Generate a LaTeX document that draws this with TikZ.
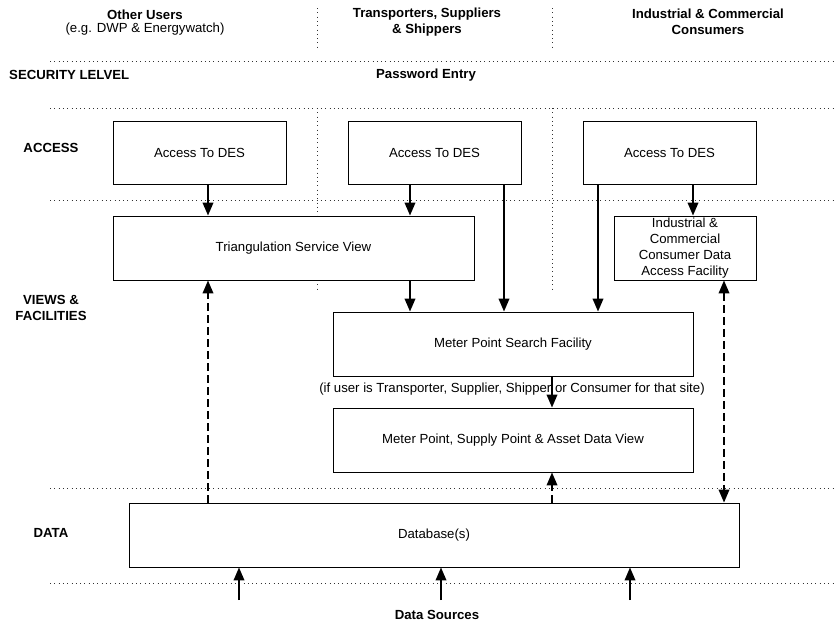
\documentclass[tikz,border=0pt]{standalone}
\usepackage{fontspec}
\setmainfont{Liberation Sans}
\usetikzlibrary{arrows.meta}
\begin{document}
\begin{tikzpicture}[x=1pt,y=-1pt,
  every node/.style={font=\fontsize{13.2}{15.5}\selectfont, inner sep=0pt},
  hdr/.style={font=\fontsize{13.2}{15.5}\selectfont\bfseries, align=center},
  box/.style={draw, line width=0.8pt, fill=white, align=center},
  sep/.style={line width=0.9pt, dash pattern=on 0.9pt off 3.4pt, black!80},
  arr/.style={-{Triangle[width=10.5pt,length=13pt]}, line width=2pt},
  darr/.style={-{Triangle[width=10.5pt,length=13pt]}, line width=2pt, dash pattern=on 8pt off 4pt},
  dboth/.style={{Triangle[width=10.5pt,length=13pt]}-{Triangle[width=10.5pt,length=13pt]}, line width=2pt, dash pattern=on 8pt off 4pt}]
\useasboundingbox (0,0) rectangle (835,625);

% layer separators
\foreach \yy in {61.7,108,200.7,488.3,583.3}
  \draw[sep] (50,\yy) -- (835,\yy);
\foreach \xx in {317,552} {
  \draw[sep] (\xx,8) -- (\xx,50);
  \draw[sep] (\xx,108) -- (\xx,290);
}

% column headings
\node[hdr] (colA) at (145,14.5) {Other Users};
\node (colAsub) at (145,29.5) {(e.g. DWP \& Energywatch)};
\node[hdr] (colB) at (427,22) {Transporters, Suppliers\\\& Shippers};
\node[hdr] (colC) at (708,22) {Industrial \& Commercial\\Consumers};

% layer labels
\node[hdr, anchor=west] (lsec) at (9,75) {SECURITY LELVEL};
\node[hdr] (pwd) at (426,75) {Password Entry};
\node[hdr] (lacc) at (51,148) {ACCESS};
\node[hdr] (lview) at (51,308) {VIEWS \&\\FACILITIES};
\node[hdr] (ldata) at (51,533) {DATA};
\node[hdr] (dsrc) at (437,615) {Data Sources};

% boxes
\node[box, minimum width=173pt, minimum height=63pt] (acc1) at (199.5,152.5) {Access To DES};
\node[box, minimum width=173pt, minimum height=63pt] (acc2) at (434.5,152.5) {Access To DES};
\node[box, minimum width=173pt, minimum height=63pt] (acc3) at (669.5,152.5) {Access To DES};
\node[box, minimum width=361pt, minimum height=64pt] (tri) at (293.5,248) {Triangulation Service View};
\node[box, minimum width=142pt, minimum height=64pt, font=\fontsize{13.2}{16.2}\selectfont] (ind) at (685,248)
  {Industrial \&\\Commercial\\Consumer Data\\Access Facility};
\node[box, minimum width=360pt, minimum height=64pt] (mps) at (513,344) {Meter Point Search Facility};
\node (cond) at (512,389) {(if user is Transporter, Supplier, Shipper or Consumer for that site)};
\node[box, minimum width=360pt, minimum height=64pt] (mpv) at (513,440) {Meter Point, Supply Point \& Asset Data View};
\node[box, minimum width=610pt, minimum height=64pt] (db) at (434,535) {Database(s)};

% access flows
\draw[arr] (208,0 |- acc1.south) -- (208,0 |- tri.north);
\draw[arr] (410,0 |- acc2.south) -- (410,0 |- tri.north);
\draw[arr] (504,0 |- acc2.south) -- (504,0 |- mps.north);
\draw[arr] (598,0 |- acc3.south) -- (598,0 |- mps.north);
\draw[arr] (693,0 |- acc3.south) -- (693,0 |- ind.north);
\draw[arr] (410,0 |- tri.south) -- (410,0 |- mps.north);
\draw[arr] (552,0 |- mps.south) -- (552,0 |- mpv.north);

% data flows
\draw[darr] (208,0 |- db.north) -- (208,0 |- tri.south);
\draw[darr] (552,0 |- db.north) -- (552,0 |- mpv.south);
\draw[dboth] (724,0 |- ind.south) -- (724,0 |- db.north);

% data sources feeding the database
\foreach \xx/\nm in {239/s1,441/s2,630/s3} {
  \coordinate (\nm) at (\xx,600);
  \draw[arr] (\nm) -- (\xx,0 |- db.south);
}
\end{tikzpicture}
\end{document}
